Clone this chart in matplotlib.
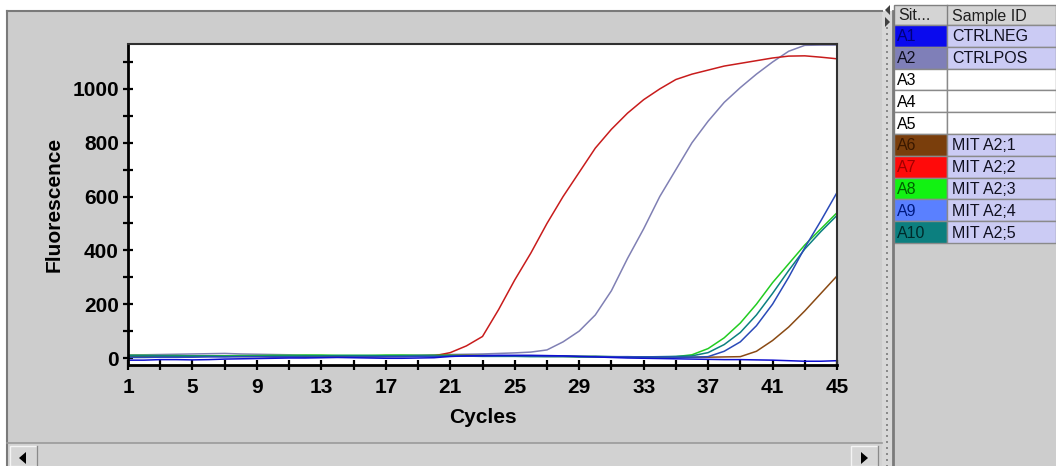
import numpy as np
import matplotlib
matplotlib.use("Agg")
import matplotlib.pyplot as plt
from matplotlib.patches import Rectangle, Polygon
from matplotlib.ticker import FixedLocator

plt.rcParams['font.family'] = ['Liberation Sans', 'DejaVu Sans']

cycles = list(range(1, 46))

# fluorescence per well
a1_ctrlneg = [-8, -8, -6, -6, -7, -6, -4, -3, -2, -1, 0, 0, 1, 2, 1, 0, -1, -1, 0, 1,
              6, 8, 9, 10, 10, 10, 9, 8, 6, 4, 2, 0, -1, -2, -3, -4, -5, -6, -6, -7,
              -8, -10, -12, -12, -10]
a2_ctrlpos = [12, 12, 13, 14, 15, 16, 17, 15, 14, 13, 12, 10, 9, 8, 8, 8, 9, 10, 11, 12,
              13, 14, 15, 17, 19, 22, 30, 60, 100, 160, 250, 370, 480, 600, 700, 800, 880,
              950, 1005, 1055, 1100, 1140, 1162, 1163, 1163]
a6_mit1 = [6, 6, 7, 7, 8, 8, 8, 7, 7, 6, 6, 5, 5, 5, 5, 6, 6, 7, 8, 9,
           10, 10, 9, 8, 8, 7, 6, 6, 5, 5, 4, 4, 3, 3, 3, 3, 3, 4, 5,
           25, 65, 115, 175, 240, 305]
a7_mit2 = [5, 5, 6, 6, 6, 7, 7, 6, 6, 5, 5, 5, 4, 4, 5, 5, 6, 6, 7, 8,
           20, 45, 80, 180, 290, 390, 500, 600, 690, 780, 850, 910, 960, 1000, 1035,
           1055, 1070, 1085, 1095, 1105, 1115, 1122, 1123, 1118, 1112]
a8_mit3 = [10, 10, 9, 9, 8, 8, 8, 9, 9, 10, 10, 11, 11, 10, 10, 10, 11, 11, 10, 10,
           10, 9, 9, 8, 8, 8, 7, 7, 6, 6, 5, 4, 4, 4, 5,
           12, 35, 75, 130, 200, 280, 350, 420, 480, 540]
a9_mit4 = [2, 2, 3, 3, 3, 4, 4, 5, 5, 4, 4, 3, 3, 3, 4, 4, 5, 5, 6, 6,
           6, 7, 7, 8, 8, 8, 7, 7, 6, 6, 5, 5, 4, 4, 3, 3,
           5, 25, 60, 120, 200, 300, 410, 510, 615]
a10_mit5 = [8, 8, 8, 7, 7, 7, 6, 6, 6, 7, 7, 8, 8, 9, 9, 9, 8, 8, 8, 7,
            7, 7, 6, 6, 6, 5, 5, 5, 4, 4, 4, 4, 4, 5, 6,
            8, 20, 50, 95, 160, 240, 325, 405, 470, 530]

wells = ['A1', 'A2', 'A3', 'A4', 'A5', 'A6', 'A7', 'A8', 'A9', 'A10']
sample_ids = ['CTRLNEG', 'CTRLPOS', '', '', '', 'MIT A2;1', 'MIT A2;2', 'MIT A2;3', 'MIT A2;4', 'MIT A2;5']
well_colors = ['#0a0aee', '#7f7fb8', 'white', 'white', 'white', '#7a3e0c', '#ff0a0a', '#12f212', '#5a80ff', '#0c7f7f']
well_text = ['#00007a', '#101020', 'black', 'black', 'black', '#3a1800', '#a00000', '#006000', '#001a80', '#002a2a']

series = [
    (a2_ctrlpos, '#8080b4'),
    (a7_mit2, '#c81c1c'),
    (a6_mit1, '#8a4a14'),
    (a8_mit3, '#22cc22'),
    (a10_mit5, '#0c8080'),
    (a9_mit4, '#2a4ab8'),
    (a1_ctrlneg, '#1010d0'),
]

W, H = 1056, 466
fig = plt.figure(figsize=(W / 100, H / 100), dpi=100)
fig.patch.set_facecolor('white')

# background / window chrome drawn in pixel coords
bg = fig.add_axes([0, 0, 1, 1], zorder=0)
bg.set_xlim(0, W)
bg.set_ylim(H, 0)
bg.axis('off')

gray = '#cdcdcd'
bg.add_patch(Rectangle((7, 11), 875, H - 11, facecolor=gray, edgecolor='none'))
bg.plot([7, 882], [11, 11], color='#7a7a7a', lw=1.5)
bg.plot([7, 7], [11, H], color='#7a7a7a', lw=1.5)

# horizontal scrollbar
bg.add_patch(Rectangle((7, 443), 875, H - 443, facecolor='#d2d2d2', edgecolor='none'))
bg.plot([7, 882], [443, 443], color='#9a9a9a', lw=1.2)
for x0 in (10, 851):
    bg.add_patch(Rectangle((x0, 446), 27, H - 446, facecolor='#d6d6d6', edgecolor='#f4f4f4', lw=1))
    bg.plot([x0 + 27, x0 + 27], [446, H], color='#8a8a8a', lw=1)
bg.add_patch(Polygon([(19, 458), (26, 452), (26, 464)], closed=True, facecolor='black'))
bg.add_patch(Polygon([(868, 458), (861, 452), (861, 464)], closed=True, facecolor='black'))

# splitter
bg.add_patch(Rectangle((882, 11), 11, H - 11, facecolor='#d8d8d8', edgecolor='none'))
bg.scatter(np.full(75, 887), np.linspace(28, H, 75), s=1.2, color='#8a8a8a', marker='s', lw=0)
bg.plot([893, 893], [11, H], color='#7a7a7a', lw=2)
bg.add_patch(Polygon([(885, 10), (890, 5), (890, 15)], closed=True, facecolor='#404040'))
bg.add_patch(Polygon([(890, 22), (885, 17), (885, 27)], closed=True, facecolor='#404040'))

# well table
bg.add_patch(Rectangle((894, 11), W - 894, H - 11, facecolor=gray, edgecolor='none'))
col1, col2 = 894, 947
head_top, head_bot = 5, 25
row_h = 21.8
bg.add_patch(Rectangle((col1, head_top), W - col1, head_bot - head_top, facecolor='#d4d4d4',
                       edgecolor='#808080', lw=1))
bg.plot([col2, col2], [head_top, head_bot], color='#808080', lw=1)
bg.text(col1 + 4, (head_top + head_bot) / 2 + 1, 'Sit...', fontsize=11.5, va='center', color='#202020')
bg.text(col2 + 5, (head_top + head_bot) / 2 + 1, 'Sample ID', fontsize=11.5, va='center', color='#202020')
for i, (w, sid) in enumerate(zip(wells, sample_ids)):
    y0 = head_bot + i * row_h
    bg.add_patch(Rectangle((col1, y0), col2 - col1, row_h, facecolor=well_colors[i],
                           edgecolor='#8a8a8a', lw=1))
    face2 = '#cbcbf4' if sid else 'white'
    bg.add_patch(Rectangle((col2, y0), W - col2, row_h, facecolor=face2, edgecolor='#8a8a8a', lw=1))
    bg.text(col1 + 3, y0 + row_h / 2 + 1, w, fontsize=11.5, va='center', color=well_text[i])
    if sid:
        bg.text(col2 + 5, y0 + row_h / 2 + 1, sid, fontsize=11.5, va='center', color='#101020')

# amplification plot
ax = fig.add_axes([128 / W, 1 - 365 / H, (837 - 128) / W, (365 - 44) / H], zorder=2)
ax.set_facecolor('white')
for vals, c in series:
    ax.plot(cycles, vals, color=c, lw=1.1)

ax.set_xlim(1, 45)
ax.set_ylim(-26, 1167)
ax.xaxis.set_major_locator(FixedLocator(list(range(1, 46, 4))))
ax.xaxis.set_minor_locator(FixedLocator(list(range(3, 46, 4))))
ax.yaxis.set_major_locator(FixedLocator(list(range(0, 1001, 200))))
ax.yaxis.set_minor_locator(FixedLocator(list(range(100, 1101, 200))))
ax.tick_params(which='both', direction='inout', length=7, width=1.6, color='black')
ax.tick_params(axis='x', pad=6)
ax.tick_params(axis='y', pad=3)
for lab in ax.get_xticklabels() + ax.get_yticklabels():
    lab.set_fontsize(15)
    lab.set_fontweight('bold')
ax.spines['left'].set_linewidth(2)
ax.spines['bottom'].set_linewidth(2)
ax.spines['top'].set_color('#303030')
ax.spines['right'].set_color('#303030')
ax.spines['top'].set_linewidth(1.5)
ax.spines['right'].set_linewidth(1.5)
ax.set_xlabel('Cycles', fontsize=15, fontweight='bold', labelpad=8)
ax.set_ylabel('Fluorescence', fontsize=15, fontweight='bold', labelpad=6)

fig.savefig('out.png', dpi=100, facecolor=fig.get_facecolor())
